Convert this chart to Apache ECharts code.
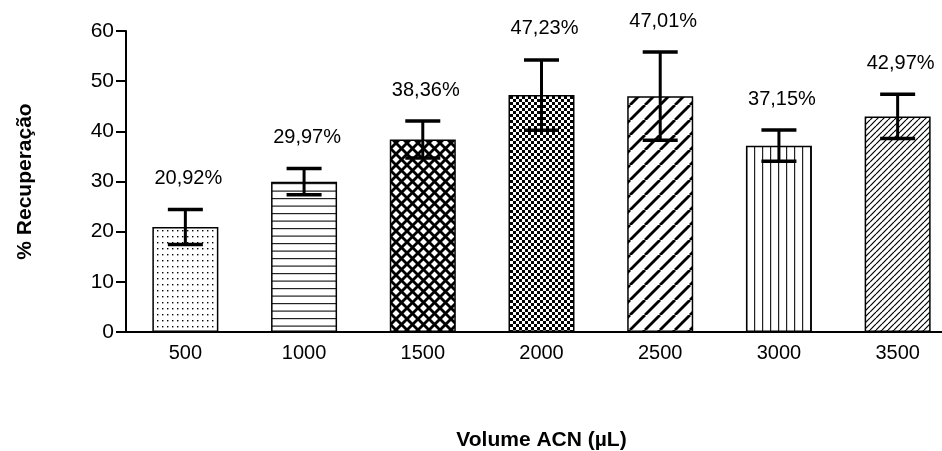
<!DOCTYPE html>
<html>
<head>
<meta charset="utf-8">
<script src="https://cdn.jsdelivr.net/npm/echarts@6/dist/echarts.min.js"></script>
<style>
  html, body { margin: 0; padding: 0; background: #fff; }
  #chart { width: 942px; height: 451px; }
</style>
</head>
<body>
<div id="chart"></div>
<script>
// Recovery (%) by acetonitrile volume, mean ± SD
const volumes = ['500', '1000', '1500', '2000', '2500', '3000', '3500'];
const recovery = [20.92, 29.97, 38.36, 47.23, 47.01, 37.15, 42.97];
const sd = [3.5, 2.6, 3.7, 7.0, 8.8, 3.1, 4.4];
const yTicks = [0, 10, 20, 30, 40, 50, 60];

// Fill patterns for the bars, one per volume
function tile(w, h, draw) {
  const c = document.createElement('canvas');
  c.width = w; c.height = h;
  const ctx = c.getContext('2d');
  ctx.fillStyle = '#fff';
  ctx.fillRect(0, 0, w, h);
  ctx.fillStyle = '#000';
  ctx.strokeStyle = '#000';
  draw(ctx, w, h);
  return c;
}
function diag(ctx, w, h, up) {
  for (let k = -1; k <= 1; k++) {
    ctx.beginPath();
    if (up) { ctx.moveTo(k * w, h); ctx.lineTo(k * w + w, 0); }
    else { ctx.moveTo(k * w, 0); ctx.lineTo(k * w + w, h); }
    ctx.stroke();
  }
}
const patterns = [
  tile(5, 6, (ctx) => { ctx.fillRect(2, 2, 1.4, 1.4); }),
  tile(4, 15, (ctx) => { ctx.fillStyle = '#222'; ctx.fillRect(0, 3, 4, 1.2); ctx.fillRect(0, 10.5, 4, 1.2); }),
  tile(11, 11, (ctx, w, h) => { ctx.lineWidth = 2.8; diag(ctx, w, h, true); diag(ctx, w, h, false); }),
  tile(6, 6, (ctx) => { ctx.fillRect(0, 0, 3, 3); ctx.fillRect(3, 3, 3, 3); }),
  tile(15, 15, (ctx, w, h) => { ctx.lineWidth = 2.8; diag(ctx, w, h, true); }),
  tile(8, 4, (ctx) => { ctx.fillStyle = '#222'; ctx.fillRect(2, 0, 1.2, 4); }),
  tile(6, 6, (ctx, w, h) => { ctx.lineWidth = 1.2; diag(ctx, w, h, true); })
];

const barData = recovery.map((v, i) => ({
  value: v,
  itemStyle: { color: { image: patterns[i], repeat: 'repeat' } }
}));
const errData = recovery.map((v, i) => [i, v - sd[i], v + sd[i], v]);

const chart = echarts.init(document.getElementById('chart'), null, { renderer: 'canvas' });
chart.setOption({
  animation: false,
  backgroundColor: '#fff',
  grid: { left: 126, top: 31, bottom: 119, right: -15, containLabel: false, outerBoundsMode: 'none' },
  xAxis: {
    type: 'category',
    data: volumes,
    name: 'Volume ACN (\u00b5L)',
    nameLocation: 'middle',
    nameGap: 98,
    nameTextStyle: { fontFamily: 'Liberation Sans', fontWeight: 'bold', fontSize: 21, color: '#000' },
    axisLine: { lineStyle: { color: '#000', width: 2 } },
    axisTick: { alignWithLabel: true, length: 8, lineStyle: { color: '#000', width: 2 } },
    axisLabel: { fontFamily: 'Liberation Sans', fontSize: 20, color: '#000', margin: 11 }
  },
  yAxis: {
    type: 'value',
    min: yTicks[0],
    max: yTicks[yTicks.length - 1],
    interval: yTicks[1] - yTicks[0],
    name: '% Recupera\u00e7\u00e3o',
    nameLocation: 'middle',
    nameRotate: 90,
    nameGap: 90,
    nameTextStyle: { fontFamily: 'Liberation Sans', fontWeight: 'bold', fontSize: 21, color: '#000' },
    axisLine: { show: true, lineStyle: { color: '#000', width: 2 } },
    axisTick: { show: true, length: 10, lineStyle: { color: '#000', width: 2 } },
    axisLabel: { fontFamily: 'Liberation Sans', fontSize: 21, color: '#000', margin: 12 },
    splitLine: { show: false }
  },
  series: [
    {
      type: 'bar',
      data: barData,
      barWidth: 66,
      itemStyle: { borderColor: '#000', borderWidth: 1.5 }
    },
    {
      type: 'custom',
      data: errData,
      z: 5,
      renderItem: function (params, api) {
        const i = api.value(0);
        const lo = api.coord([i, api.value(1)]);
        const hi = api.coord([i, api.value(2)]);
        const half = 17.5;
        const mean = api.value(3);
        const style = { stroke: '#000', lineWidth: 3 };
        return {
          type: 'group',
          children: [
            { type: 'line', shape: { x1: hi[0], y1: hi[1], x2: lo[0], y2: lo[1] }, style: style },
            { type: 'line', shape: { x1: hi[0] - half, y1: hi[1], x2: hi[0] + half, y2: hi[1] }, style: { stroke: '#000', lineWidth: 3.5 } },
            { type: 'line', shape: { x1: lo[0] - half, y1: lo[1], x2: lo[0] + half, y2: lo[1] }, style: { stroke: '#000', lineWidth: 3.5 } },
            {
              type: 'text',
              x: hi[0] + 3,
              y: hi[1] - 31,
              style: {
                text: mean.toFixed(2).replace('.', ',') + '%',
                fontFamily: 'Liberation Sans',
                fontSize: 20,
                fill: '#000',
                align: 'center',
                verticalAlign: 'middle'
              }
            }
          ]
        };
      }
    }
  ]
});
</script>
</body>
</html>
